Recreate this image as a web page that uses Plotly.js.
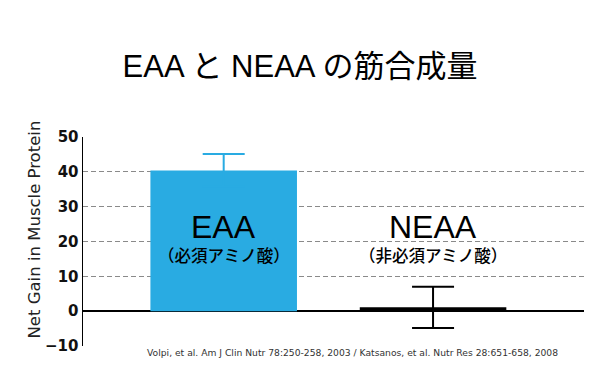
<!DOCTYPE html>
<html>
<head>
<meta charset="utf-8">
<script src="https://cdn.plot.ly/plotly-3.0.1.min.js"></script>
<style>html,body{margin:0;padding:0;background:#fff;}#chart{width:600px;height:390px;}</style>
</head>
<body>
<div id="chart"></div>
<script>
const categories = ["EAA", "NEAA"];
const subLabels = ["（必須アミノ酸）", "（非必須アミノ酸）"];
const values = [40.4, 1.1];
const errors = [4.7, 5.9];
const colors = ["#29abe2", "#000000"];
const yTickVals = [-10, 0, 10, 20, 30, 40, 50];
const gridVals = [10, 20, 30, 40, 50];
const titleText = "EAA と NEAA の筋合成量";
const yTitle = "Net Gain in Muscle Protein";
const source = "Volpi, et al. Am J Clin Nutr 78:250-258, 2003 / Katsanos, et al. Nutr Res 28:651-658, 2008";

const traces = categories.map((c, i) => ({
  type: "bar",
  x: [c],
  y: [values[i]],
  width: 0.7,
  marker: {color: colors[i], line: {width: 0}},
  error_y: {type: "data", array: [errors[i]], visible: true, color: colors[i], thickness: 2, width: 21},
  hoverinfo: "none",
  showlegend: false
}));
// helper trace so the grid-only overlay axis is drawn
traces.unshift({type: "scatter", mode: "markers", x: [categories[0]], y: [null], yaxis: "y2",
  hoverinfo: "none", showlegend: false});

const annotations = [];
categories.forEach((c, i) => {
  annotations.push({x: c, y: 24.2, xref: "x", yref: "y", text: c, showarrow: false,
    font: {family: "Liberation Sans, Arial, sans-serif", size: 32, color: "#000"}, yanchor: "middle"});
  annotations.push({x: c, y: 16.0, xref: "x", yref: "y", text: subLabels[i], showarrow: false,
    font: {family: "Noto Sans CJK JP, sans-serif", size: 16.5, color: "#000", weight: 500}, yanchor: "middle"});
});
annotations.push({x: -0.096, y: 0.557, xref: "paper", yref: "paper", text: yTitle, textangle: -90,
  showarrow: false, font: {family: "DejaVu Sans, sans-serif", size: 16.5, color: "#222"}, xanchor: "center", yanchor: "middle"});
annotations.push({x: 0.538, y: -0.033, xref: "paper", yref: "paper", text: source, showarrow: false,
  font: {family: "DejaVu Sans, sans-serif", size: 9.2, color: "#333"}, xanchor: "center", yanchor: "middle"});

const layout = {
  width: 600, height: 390,
  margin: {l: 83, r: 16, t: 137, b: 44},
  paper_bgcolor: "#fff", plot_bgcolor: "#fff",
  barmode: "overlay",
  title: {text: titleText, x: 0.5, xanchor: "center", xref: "container", y: 0.83, yref: "container", yanchor: "middle",
    font: {family: "Liberation Sans, Noto Sans CJK JP, sans-serif", size: 31, color: "#000"}},
  xaxis: {type: "category", range: [-0.672, 1.721], showticklabels: false, showgrid: false, zeroline: false, showline: false, ticks: ""},
  yaxis: {range: [-10, 50], tickvals: yTickVals, showgrid: false, zeroline: true, zerolinecolor: "#000", zerolinewidth: 1.5,
    showline: true, linecolor: "#000", linewidth: 1.5, ticks: "",
    tickfont: {family: "DejaVu Sans, sans-serif", size: 15, color: "#111", weight: "bold"}},
  yaxis2: {overlaying: "y", range: [-10, 50], tickvals: gridVals, showticklabels: false, showgrid: true,
    gridcolor: "#8a8a8a", gridwidth: 1, griddash: "5px,3px", zeroline: false, showline: false, ticks: ""},
  annotations: annotations
};

Plotly.newPlot("chart", traces, layout, {staticPlot: true, displayModeBar: false});
</script>
</body>
</html>
